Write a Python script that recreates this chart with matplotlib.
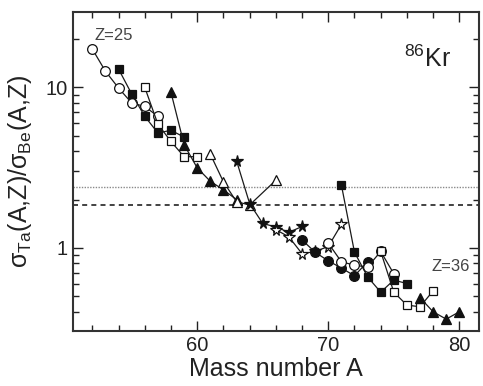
import numpy as np
import matplotlib.pyplot as plt
from matplotlib.ticker import LogLocator, NullFormatter, MultipleLocator, FixedLocator

plt.rcParams['font.family'] = ['Liberation Sans', 'DejaVu Sans']
plt.rcParams['mathtext.fontset'] = 'custom'
plt.rcParams['mathtext.rm'] = 'Liberation Sans'
plt.rcParams['mathtext.it'] = 'Liberation Sans:italic'

# ratio sigma(Ta)/sigma(Be) per element, mass number A
a_z25 = [52, 53, 54, 55, 56, 57]
r_z25 = [17.3, 12.6, 9.9, 8.0, 7.6, 6.6]
a_z26 = [54, 55, 56, 57, 58, 59]
r_z26 = [13.0, 9.1, 6.6, 5.2, 5.4, 4.9]
a_z27 = [56, 57, 58, 59, 60]
r_z27 = [10.0, 5.9, 4.6, 3.7, 3.7]
a_z28 = [58, 59, 60, 61, 62, 63]
r_z28 = [9.3, 4.4, 3.15, 2.6, 2.3, 2.0]
a_z29 = [61, 62, 63, 64, 66]
r_z29 = [3.84, 2.58, 1.94, 1.85, 2.64]
a_z30 = [63, 64, 65, 66, 67, 68]
r_z30 = [3.49, 1.89, 1.42, 1.35, 1.25, 1.36]
a_z31 = [66, 67, 68, 69, 70, 71]
r_z31 = [1.30, 1.17, 0.92, 0.95, 1.02, 1.40]
a_z32 = [68, 69, 70, 71, 72, 73]
r_z32 = [1.12, 0.94, 0.83, 0.75, 0.67, 0.82]
a_z33 = [70, 71, 72, 73, 74, 75]
r_z33 = [1.07, 0.82, 0.78, 0.76, 0.95, 0.69]
a_z34 = [71, 72, 73, 74, 75, 76]
r_z34 = [2.47, 0.94, 0.66, 0.53, 0.63, 0.60]
a_z35 = [74, 75, 76, 77, 78]
r_z35 = [0.95, 0.53, 0.44, 0.43, 0.54]
a_z36 = [77, 78, 79, 80]
r_z36 = [0.49, 0.40, 0.36, 0.40]

dotted_level = 2.4
dashed_level = 1.86

series = [
    (a_z25, r_z25, 'o', False),
    (a_z26, r_z26, 's', True),
    (a_z27, r_z27, 's', False),
    (a_z28, r_z28, '^', True),
    (a_z29, r_z29, '^', False),
    (a_z30, r_z30, '*', True),
    (a_z31, r_z31, '*', False),
    (a_z32, r_z32, 'o', True),
    (a_z33, r_z33, 'o', False),
    (a_z34, r_z34, 's', True),
    (a_z35, r_z35, 's', False),
    (a_z36, r_z36, '^', True),
]

fig = plt.figure(figsize=(4.83, 3.86), dpi=100)
ax = fig.add_axes([0.1505, 0.1433, 0.8412, 0.8264])

ax.axhline(dotted_level, color='#8a8a8a', lw=1.0, ls=(0, (1, 1)), zorder=1)
ax.axhline(dashed_level, color='#222222', lw=1.2, ls=(0, (3, 2.5)), zorder=1)

for a, r, m, filled in series:
    ms = {'o': 7, 's': 6.2, '^': 6.8, '*': 8.5}[m]
    ax.plot(a, r, color='#1a1a1a', lw=0.9, marker=m, ms=ms,
            mfc='#111111' if filled else 'white', mec='#111111', mew=0.9,
            zorder=3)

ax.set_yscale('log')
ax.set_xlim(50.5, 81.5)
ax.set_ylim(0.305, 29.6)

ax.xaxis.set_major_locator(FixedLocator([60, 70, 80]))
ax.xaxis.set_minor_locator(MultipleLocator(2))
ax.yaxis.set_major_locator(FixedLocator([1, 10]))
ax.yaxis.set_major_formatter(plt.FuncFormatter(lambda v, p: '%g' % v))
ax.yaxis.set_minor_locator(LogLocator(base=10, subs=np.arange(2, 10)))
ax.yaxis.set_minor_formatter(NullFormatter())

ax.tick_params(which='both', direction='in', top=True, right=True,
               labelsize=14.5, colors='#222222', width=1.0)
ax.tick_params(which='major', length=7)
ax.tick_params(which='minor', length=4)
for s in ax.spines.values():
    s.set_linewidth(1.5)
    s.set_color('#333333')

ax.set_xlabel('Mass number A', fontsize=18, color='#222222', labelpad=2)
ax.set_ylabel(r'σ$_{\mathrm{Ta}}$(A,Z)/σ$_{\mathrm{Be}}$(A,Z)', fontsize=18,
              color='#222222', labelpad=8)

ax.text(52.2, 19.8, 'Z=25', fontsize=12, color='#444444', va='baseline')
ax.text(77.9, 0.716, 'Z=36', fontsize=12, color='#444444', va='baseline')
ax.text(75.8, 13.4, r'$^{86}$Kr', fontsize=18, color='#222222', va='baseline')

fig.savefig('out.png', dpi=100)
